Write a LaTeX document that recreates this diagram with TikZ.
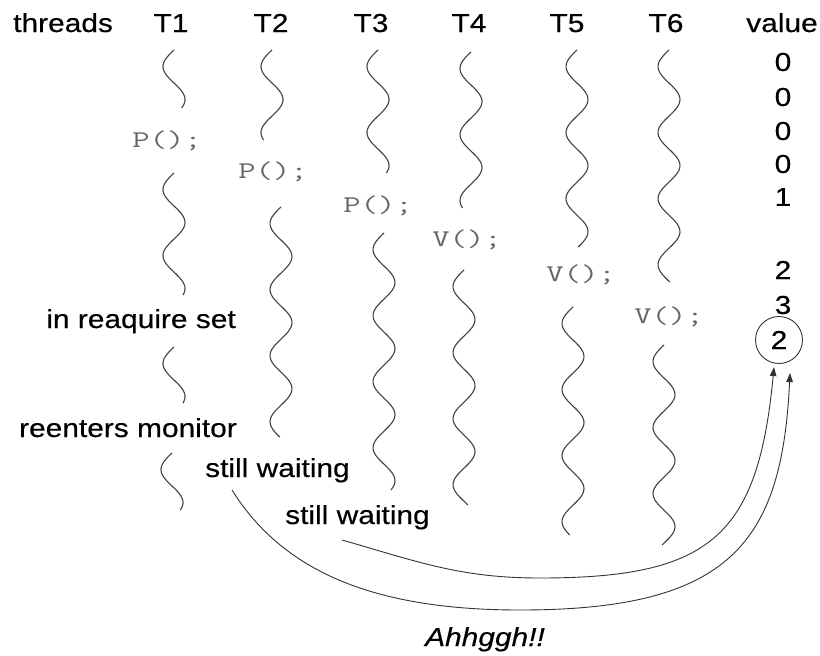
\documentclass[tikz,border=0pt]{standalone}
\usepackage{fontspec}
\setmainfont{Liberation Sans}[FakeStretch=1.15,FakeBold=0.4]
\newfontfamily\codefont{Latin Modern Mono}[FakeStretch=1.4]
\usetikzlibrary{arrows.meta}
\newcommand\threadwave[3]{\draw[wave] plot[domain=#2:#3, samples=90, smooth, variable=\t] ({#1-11*sin(5.45*(\t-#2))},\t);}
\begin{document}
\begin{tikzpicture}[x=1pt,y=-1pt,
  lbl/.style={font=\fontsize{26}{30}\selectfont, inner sep=0pt, text=black},
  code/.style={font=\codefont\fontsize{24}{28}\selectfont, inner sep=0pt, text=black!60},
  wave/.style={draw=black!75, line width=1.1pt},
  arr/.style={draw=black!80, line width=0.9pt, -{Triangle[length=9pt,width=6.5pt]}},
  ring/.style={circle, draw=black!80, line width=0.9pt, minimum size=47pt, inner sep=0pt}]
\useasboundingbox (0,0) rectangle (820,656);
% header
\node[lbl, anchor=base west] (hthreads) at (13,32) {threads};
\node[lbl, anchor=base] (hT1) at (171,32) {T1};
\node[lbl, anchor=base] (hT2) at (271,32) {T2};
\node[lbl, anchor=base] (hT3) at (371,32) {T3};
\node[lbl, anchor=base] (hT4) at (469,32) {T4};
\node[lbl, anchor=base] (hT5) at (567,32) {T5};
\node[lbl, anchor=base] (hT6) at (666,32) {T6};
\node[lbl, anchor=base] (hvalue) at (782,32) {value};
% value column
\node[lbl] (val1) at (783,62) {0};
\node[lbl] (val2) at (783,97) {0};
\node[lbl] (val3) at (783,131) {0};
\node[lbl] (val4) at (783,164) {0};
\node[lbl] (val5) at (783,197) {1};
\node[lbl] (val6) at (783,270) {2};
\node[lbl] (val7) at (783,305) {3};
\node[lbl, ring] (valc) at (779,340) {2};
% code statements
\node[code] (cp1) at (167,141) {P();};
\node[code] (cp2) at (273,172) {P();};
\node[code] (cp3) at (378,206) {P();};
\node[code] (cv4) at (467,240) {V();};
\node[code] (cv5) at (581,275) {V();};
\node[code] (cv6) at (669,317) {V();};
% T1 labels
\node[lbl, anchor=base east] (reacq) at (236,328) {in reaquire set};
\node[lbl, anchor=base east] (reent) at (237,437) {reenters monitor};
\node[lbl, anchor=base west] (sw1) at (205,477) {still waiting};
\node[lbl, anchor=base west] (sw2) at (285,524) {still waiting};
\node[lbl, anchor=base, font=\itshape\fontsize{26}{30}\selectfont] (ahh) at (485,646) {Ahhggh!!};
% thread waves
\threadwave{174}{50}{108}
\threadwave{174}{173}{295}
\threadwave{174}{347}{403}
\threadwave{172}{453}{510}
\threadwave{272}{50}{140}
\threadwave{281}{207}{437}
\threadwave{378}{50}{173}
\threadwave{384}{233}{490}
\threadwave{471}{52}{208}
\threadwave{464}{270}{505}
\threadwave{577}{50}{247}
\threadwave{573}{307}{535}
\threadwave{669}{50}{282}
\threadwave{664}{345}{545}
% arrows
\coordinate (o1) at (232,490);
\coordinate (e1) at (790,373);
\coordinate (o2) at (342,540);
\coordinate (e2) at (774,367);
\draw[arr] (o1) .. controls (285,575) and (380,610) .. (520,610) .. controls (730,610) and (782,543) .. (e1);
\draw[arr] (o2) .. controls (419,562) and (460,578) .. (540,578) .. controls (710,578) and (758,537) .. (e2);
\end{tikzpicture}
\end{document}
